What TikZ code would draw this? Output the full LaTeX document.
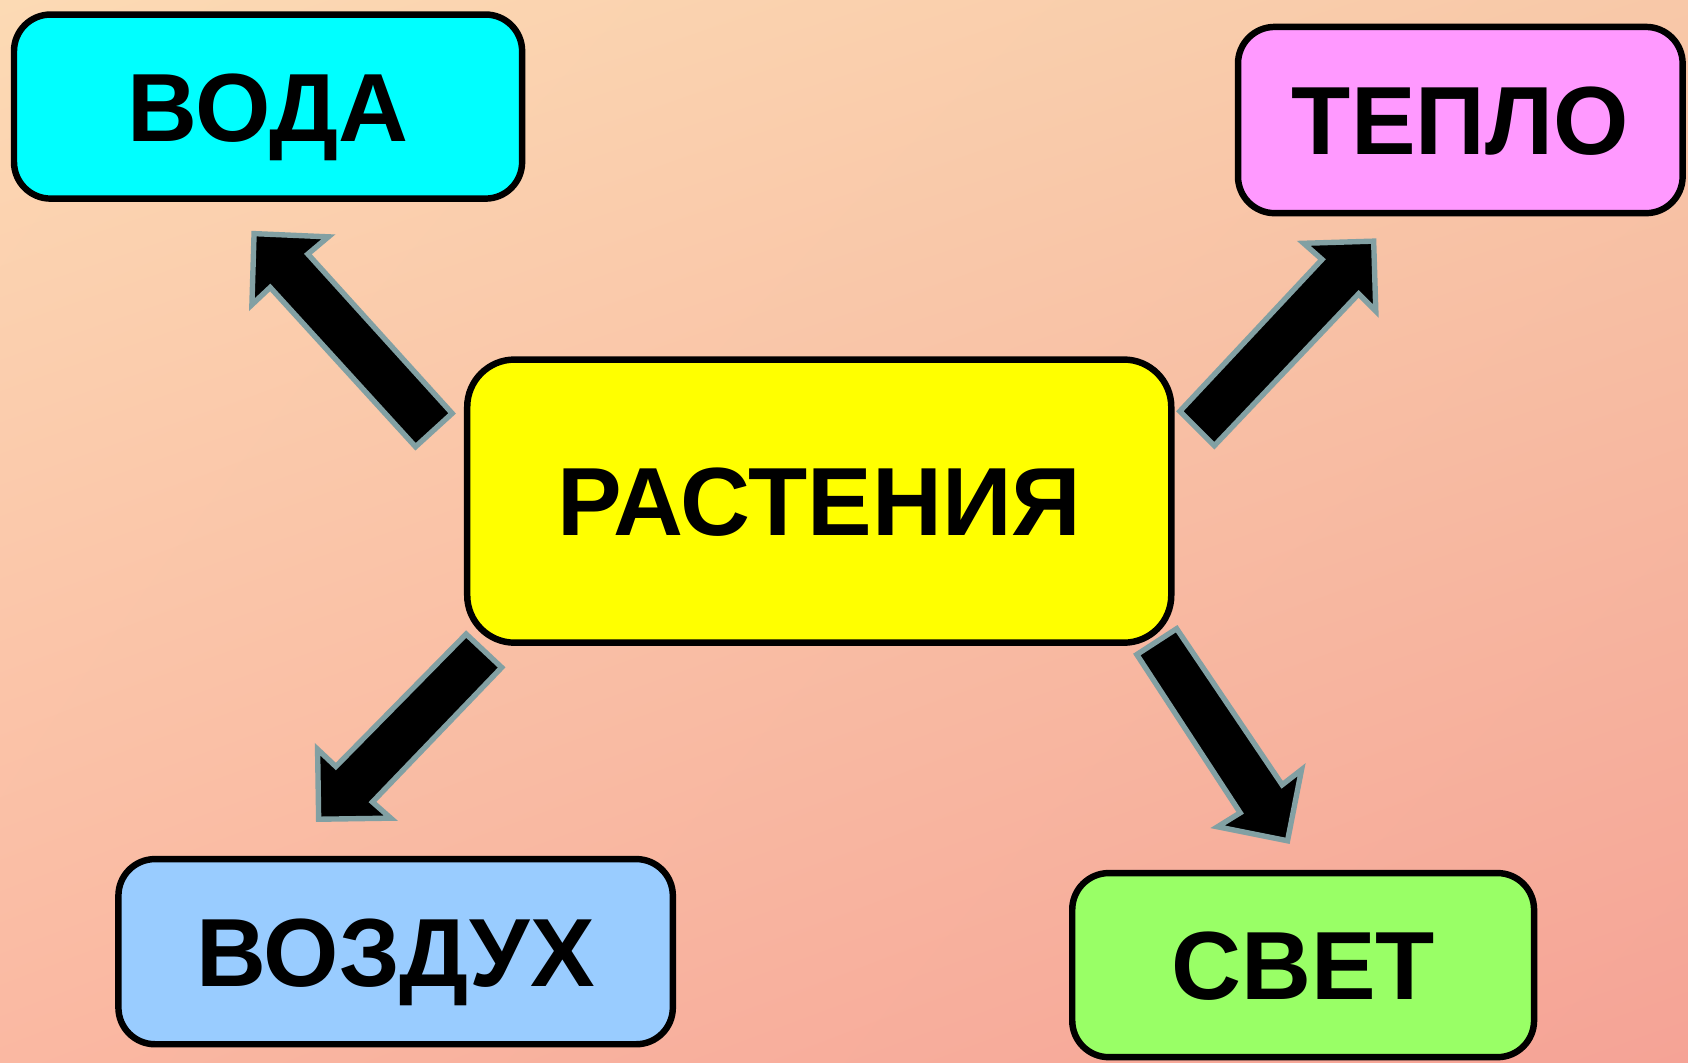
\documentclass[tikz,border=0pt]{standalone}
\usepackage{fontspec}
\setmainfont{Liberation Sans}
\usetikzlibrary{shadings}
\definecolor{bgUL}{HTML}{FCDAB4}
\definecolor{bgUR}{HTML}{F8C8A8}
\definecolor{bgLL}{HTML}{FAB8A2}
\definecolor{bgLR}{HTML}{F5A396}
\definecolor{cyanbox}{HTML}{00FFFF}
\definecolor{pinkbox}{HTML}{FF99FF}
\definecolor{yellowbox}{HTML}{FFFF00}
\definecolor{bluebox}{HTML}{99CCFF}
\definecolor{greenbox}{HTML}{99FF66}
\definecolor{arrowgray}{HTML}{82A0A3}
\begin{document}
\begin{tikzpicture}[x=1pt,y=-1pt,
  box/.style={draw=black, line width=6pt, rounded corners=34pt, inner sep=0pt,
    font=\fontsize{90}{92}\selectfont\bfseries, text height=64.5pt, text depth=0pt},
  blockarrow/.style={fill=black, draw=arrowgray, line width=5pt, line join=miter}]
\useasboundingbox (0,0) rectangle (1568,987);
\shade[upper left=bgUL, upper right=bgUR, lower left=bgLL, lower right=bgLR] (0,0) rectangle (1568,987);

\node[box, fill=cyanbox, minimum width=472pt, minimum height=171pt] (voda) at (249,99) {ВОДА};
\node[box, fill=pinkbox, minimum width=413pt, minimum height=173pt] (teplo) at (1356.5,111.5) {ТЕПЛО};
\node[box, fill=yellowbox, rounded corners=44pt, minimum width=654pt, minimum height=263pt] (rast) at (761,465.5) {РАСТЕНИЯ};
\node[box, fill=bluebox, minimum width=515pt, minimum height=172pt] (vozd) at (367.5,884) {ВОЗДУХ};
\node[box, fill=greenbox, minimum width=429pt, minimum height=171pt] (svet) at (1210.5,896.5) {СВЕТ};

% block arrows
\draw[blockarrow] (236,217) -- (305,220) -- (286,236) -- (420,384) -- (386,415) -- (251,267) -- (234,283) -- cycle;
\draw[blockarrow] (1276,224) -- (1278,289) -- (1262,273) -- (1128,414) -- (1096,382) -- (1228,241) -- (1211,226) -- cycle;
\draw[blockarrow] (296,761) -- (295,696) -- (312,712) -- (433,589) -- (466,620) -- (346,745) -- (363,760) -- cycle;
\draw[blockarrow] (1196,781) -- (1131,768) -- (1152,755) -- (1056,608) -- (1093,584) -- (1191,729) -- (1209,715) -- cycle;
\end{tikzpicture}
\end{document}
